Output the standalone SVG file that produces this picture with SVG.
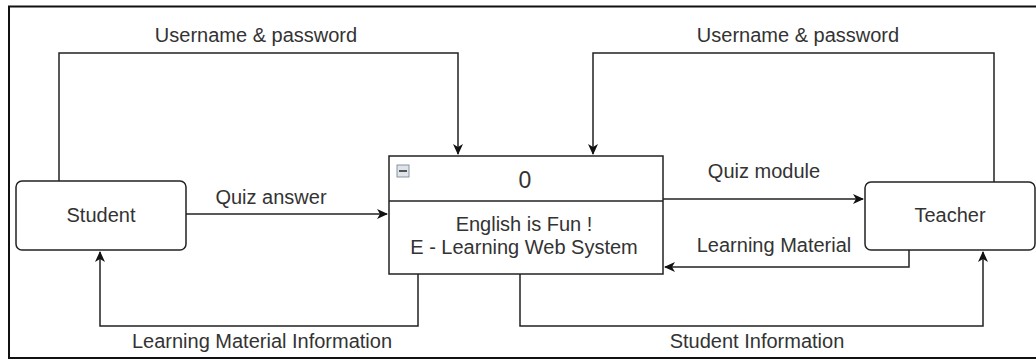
<svg xmlns="http://www.w3.org/2000/svg" width="1036" height="360" viewBox="0 0 1036 360">
  <style>
    .box { fill: #ffffff; stroke: #222222; stroke-width: 1.5; }
    .wire { fill: none; stroke: #222222; stroke-width: 1.5; }
    .lbl { font-family: "Liberation Sans", Arial, sans-serif; font-size: 20px; fill: #333333; text-anchor: middle; }
  </style>
  <defs>
    <marker id="arrow" markerWidth="12" markerHeight="12" refX="10" refY="6" orient="auto" markerUnits="userSpaceOnUse">
      <path d="M0,1 L11,6 L0,11 L3,6 Z" fill="#111111"/>
    </marker>
  </defs>

  <rect x="0" y="0" width="1036" height="360" fill="#ffffff"/>
  <!-- outer frame -->
  <path d="M1040,6.5 H9 V358 H1040" fill="none" stroke="#111111" stroke-width="2"/>

  <!-- connectors -->
  <g id="connectors">
    <path class="wire" d="M59,181 V53 H458 V154" marker-end="url(#arrow)"/>
    <path class="wire" d="M994,182 V53 H593 V154" marker-end="url(#arrow)"/>
    <path class="wire" d="M186,214 H387" marker-end="url(#arrow)"/>
    <path class="wire" d="M663,199 H863" marker-end="url(#arrow)"/>
    <path class="wire" d="M909,250 V267 H665" marker-end="url(#arrow)"/>
    <path class="wire" d="M520,274 V326 H983 V252" marker-end="url(#arrow)"/>
    <path class="wire" d="M418,274 V326 H100 V252" marker-end="url(#arrow)"/>
    <text class="lbl" x="256" y="42">Username &amp; password</text>
    <text class="lbl" x="798" y="42">Username &amp; password</text>
    <text class="lbl" x="271" y="204">Quiz answer</text>
    <text class="lbl" x="764" y="178">Quiz module</text>
    <text class="lbl" x="774" y="252">Learning Material</text>
    <text class="lbl" x="262" y="348">Learning Material Information</text>
    <text class="lbl" x="757" y="348">Student Information</text>
  </g>

  <g id="student">
    <rect class="box" x="16" y="181" width="170" height="69" rx="6"/>
    <text class="lbl" x="101" y="222">Student</text>
  </g>

  <g id="teacher">
    <rect class="box" x="865" y="182" width="170" height="68" rx="6"/>
    <text class="lbl" x="950" y="222">Teacher</text>
  </g>

  <g id="process-0">
    <rect class="box" x="389" y="156" width="274" height="118"/>
    <line x1="389" y1="201" x2="663" y2="201" stroke="#222222" stroke-width="1.5"/>
    <rect x="397" y="165" width="12" height="12" fill="#dfe3ea" stroke="#8a93a3" stroke-width="1"/>
    <rect x="399" y="170" width="8" height="2" fill="#555555"/>
    <text class="lbl" x="525" y="188" style="font-size:23px">0</text>
    <text class="lbl" x="524" y="231">English is Fun !</text>
    <text class="lbl" x="524" y="254">E - Learning Web System</text>
  </g>
</svg>
